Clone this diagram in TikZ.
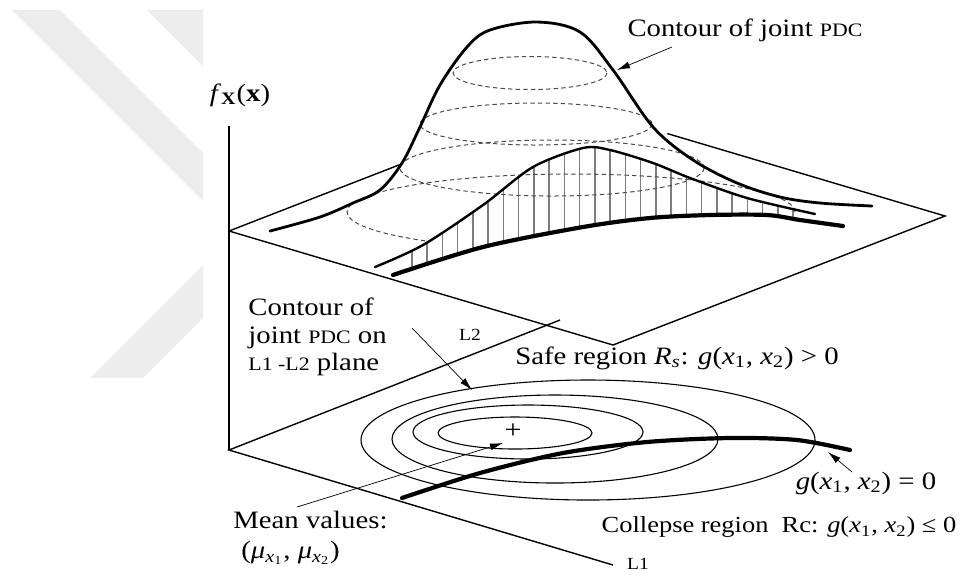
\documentclass[tikz,border=0pt]{standalone}
\usepackage{fontspec}
\setmainfont{Liberation Serif}[FakeStretch=1.15]
\usetikzlibrary{positioning,arrows.meta,calc}
\definecolor{wmark}{RGB}{237,237,237}
\definecolor{hatchgray}{RGB}{125,125,125}
\definecolor{dashgray}{RGB}{75,75,75}
\newcommand{\gx}{\textit{g}(\textit{x}\textsubscript{1}, \textit{x}\textsubscript{2})}
\newcommand{\tinycaps}[1]{{\fontsize{9.5}{10}\selectfont #1}}

\begin{document}
\begin{tikzpicture}[
x=0.5pt, y=-0.5pt,
txt/.style={inner sep=0pt, font=\fontsize{12.5}{13.8}\selectfont},
tinytxt/.style={inner sep=0pt, font=\fontsize{8.5}{9}\selectfont},
planeedge/.style={line width=0.7pt},
pdfcurve/.style={line width=1.4pt, line cap=round},
basecurve/.style={line width=2.1pt, line cap=round},
contourline/.style={dash pattern=on 2.2pt off 1.6pt, line width=0.5pt, draw=dashgray},
hatchline/.style={line width=0.75pt, draw=hatchgray},
ring/.style={line width=0.55pt},
pointer/.style={-{Latex[length=6.5pt,width=3.5pt]}, line width=0.35pt}
]
\useasboundingbox (0,0) rectangle (961,575);

% watermark
\fill[wmark] (12,10) -- (60,10) -- (203,153) -- (203,201) -- cycle;
\fill[wmark] (147,10) -- (203,10) -- (203,66) -- cycle;
\fill[wmark] (90,378) -- (143,378) -- (203,318) -- (203,265) -- cycle;

% axes and planes
\coordinate (ul) at (229,231);
\coordinate (ub) at (561,102);
\coordinate (ur) at (945,216);
\coordinate (uf) at (613,345);
\coordinate (lo) at (229,450);
\coordinate (l2) at (560,320);
\coordinate (l1) at (613,565);
\coordinate (ftop) at (229,126);
\draw[planeedge] (ftop) -- (lo);
\draw[planeedge] (ul) -- ($(ul)!0.521!(ub)$);
\draw[planeedge] ($(ub)!0.277!(ur)$) -- (ur) -- (uf) -- (ul);
\draw[planeedge] (l2) -- (lo) -- (l1);

% hatched cut
\begin{scope}
\clip plot[smooth] coordinates {(375,267) (423,245) (483,205) (533,167) (583,148) (610,150) (653,163) (690,178) (747,198) (815,214)}
  -- plot[smooth] coordinates {(843,226) (800,220) (767,215) (710,215) (650,218) (583,227) (483,247) (393,275)} -- cycle;
\foreach \hx in {0,...,25}
  \draw[hatchline] ({412+15.24*\hx},100) -- ({412+15.24*\hx},300);
\end{scope}

% contours of the joint PDC
\draw[contourline] (530,73) ellipse [x radius=77, y radius=16.5];
\draw[contourline] (536,124) ellipse [x radius=116, y radius=21];
\draw[contourline] (552,168) ellipse [x radius=152, y radius=28];
\draw[contourline] (795,212) arc [start angle=0, end angle=-230, x radius=224, y radius=38];

% surfaces
\draw[pdfcurve] plot[smooth, tension=0.55] coordinates {(270,231) (320,217) (353,203) (380,190) (402,163) (420,127) (440,85) (467,47) (490,30) (537,22) (580,32) (613,70) (653,127) (693,160) (737,183) (780,197) (820,203) (872,206)};
\draw[pdfcurve, line width=1.2pt] plot[smooth] coordinates {(375,267) (423,245) (483,205) (533,167) (583,148) (610,150) (653,163) (690,178) (747,198) (815,214)};
\draw[basecurve] plot[smooth] coordinates {(393,275) (483,247) (583,227) (650,218) (710,215) (767,215) (800,220) (843,226)};

% contours on the L1-L2 plane
\draw[ring] (515,433) ellipse [x radius=77, y radius=16];
\draw[ring] (528,432) ellipse [x radius=115, y radius=27];
\draw[ring] (555,439) ellipse [x radius=163, y radius=44];
\draw[ring] (588,440) ellipse [x radius=227, y radius=60];
\draw[basecurve] plot[smooth] coordinates {(402,498) (480,473) (563,453) (647,442) (730,438) (797,440) (850,450)};

% labels
\node[txt] (fx) at (240,95) {\textit{f}\textsubscript{\textbf{X}}(\textbf{x})};
\node[txt] (pdc) at (745,30) {Contour of joint \tinycaps{PDC}};
\node[txt, anchor=west, align=left] (plane) at (248,337) {Contour of\\joint \tinycaps{PDC} on\\\tinycaps{L1 -L2} plane};
\node[tinytxt] (lab2) at (470,335) {L2};
\node[txt] (safe) at (677,358) {Safe region \textit{R}\textsubscript{\textit{s}}: \gx{} > 0};
\node[txt, font=\fontsize{13}{14}\selectfont] (mu) at (513,431) {+};
\node[txt, font=\fontsize{12.5}{13}\selectfont] (limit) at (866,483) {\gx{} = 0};
\node[txt, font=\fontsize{11.5}{12}\selectfont] (collapse) at (779,527) {Collepse region\ \ Rc: \gx{} ≤ 0};
\node[txt, anchor=west, align=left, font=\fontsize{12.5}{15}\selectfont] (mean) at (233,538) {Mean values:\\\hspace{4pt}(\textit{μ}\textsubscript{\textit{x}\textsubscript{1}}, \textit{μ}\textsubscript{\textit{x}\textsubscript{2}})};
\node[tinytxt] (lab1) at (638,564) {L1};

% pointers
\coordinate (pdctail) at (672,47);
\coordinate (pdctip) at (617,70);
\coordinate (planetail) at (412,328);
\coordinate (planetip) at (472,390);
\coordinate (meantail) at (297,507);
\coordinate (meantip) at (503,443);
\coordinate (limittail) at (852,472);
\coordinate (limittip) at (828,452);
\draw[pointer] (pdctail) -- (pdctip);
\draw[pointer] (planetail) -- (planetip);
\draw[pointer] (meantail) -- (meantip);
\draw[pointer] (limittail) -- (limittip);
\end{tikzpicture}
\end{document}
